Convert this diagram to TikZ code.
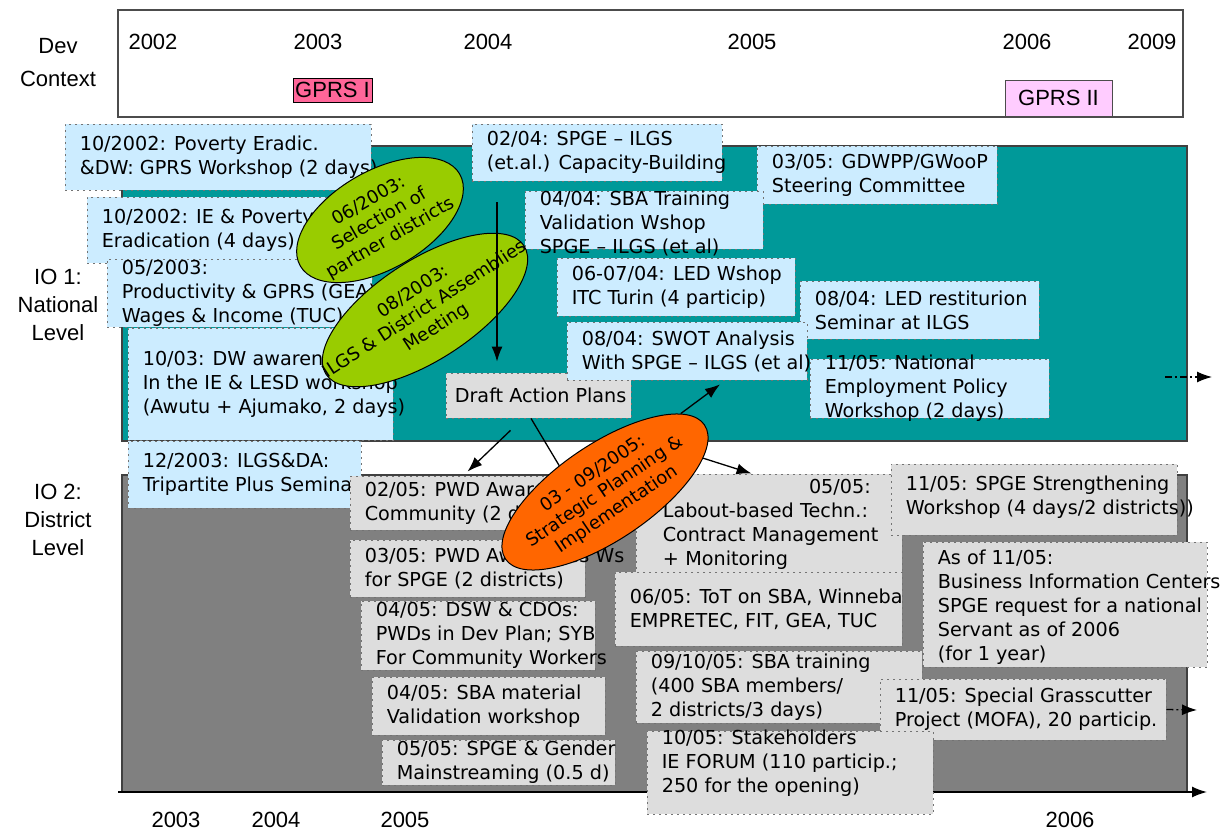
\documentclass[tikz,border=0pt]{standalone}
\usepackage{fontspec}
\setmainfont{DejaVu Sans}
\newfontfamily\arialfont{Liberation Sans}
\usetikzlibrary{arrows.meta,shapes.geometric,fit}
\definecolor{ioteal}{HTML}{009999}
\definecolor{iogrey}{HTML}{808080}
\definecolor{evblue}{HTML}{CCECFF}
\definecolor{evgrey}{HTML}{DDDDDD}
\definecolor{ovgreen}{HTML}{99CC00}
\definecolor{ovorange}{HTML}{FF6600}
\definecolor{gprsone}{HTML}{FF6699}
\definecolor{gprstwo}{HTML}{FFCCFF}
\colorlet{evedge}{white!45!black}

\begin{document}
\begin{tikzpicture}[
    x=1pt, y=-1pt,
    every node/.style={font=\fontsize{19.2}{24}\selectfont},
    lab/.style={font=\arialfont\fontsize{22}{28}\selectfont, align=center},
    panel/.style={draw=black!75, line width=1.2pt, inner sep=0pt},
    ev/.style={draw=evedge, dash pattern=on 2pt off 4pt, line width=0.8pt, inner sep=0pt},
    blue ev/.style={ev, fill=evblue},
    grey ev/.style={ev, fill=evgrey},
    evtext/.style={anchor=west, align=left, inner xsep=15pt, inner ysep=0pt},
    oval/.style={ellipse, draw=black, line width=1pt, inner sep=-45pt, align=center,
        font=\fontsize{18}{21.5}\selectfont},
    arr/.style={-{Latex[length=15pt,width=11pt]}, line width=1.3pt},
    dasharr/.style={arr, dash pattern=on 7pt off 3pt on 2pt off 3pt}
]
\useasboundingbox (0,0) rectangle (1223,832);

% development context
\node [panel, draw=black!70, fill=white, fit={(118,10) (1183,117)}] (ctx) {};
\node [lab] (devctx) at (58,63) {Dev\\[5pt]Context};
\node [lab] (c02) at (153,42) {2002};
\node [lab] (c03) at (318,42) {2003};
\node [lab] (c04) at (488,42) {2004};
\node [lab] (c05) at (752,42) {2005};
\node [lab] (c06) at (1027,42) {2006};
\node [lab] (c09) at (1152,42) {2009};
\node [lab, draw=black, fill=gprsone, inner sep=0pt, minimum width=79pt, minimum height=24pt] (gprs1) at (332.5,90) {GPRS I};
\node [lab, draw=black!70, fill=gprstwo, inner sep=0pt, minimum width=107pt, minimum height=36pt] (gprs2) at (1058.5,98) {GPRS II};

% the two levels
\node [panel, fill=ioteal, fit={(122,146) (1187,441)}] (nat) {};
\node [panel, fill=iogrey, fit={(122,475) (1187,792)}] (dist) {};
\node [lab] (io1) at (58,305) {IO 1:\\National\\Level};
\node [lab] (io2) at (58,520) {IO 2:\\District\\Level};

\coordinate (t0) at (118,792);
\coordinate (t1) at (1207,792);
\draw [arr, line width=1.5pt] (t0) -- (t1);
\node [lab] (b03) at (176,820) {2003};
\node [lab] (b04) at (276,820) {2004};
\node [lab] (b05) at (405,820) {2005};
\node [lab] (b06) at (1070,820) {2006};

\coordinate (n0) at (1165,377);
\coordinate (n1) at (1212,377);
\draw [dasharr] (n0) -- (n1);

% national level
\node [blue ev, fit={(65,124) (371,190)}, label={[evtext]west:{10/2002: Poverty Eradic.\\\&DW: GPRS Workshop (2 days)}}] (pov) {};
\node [blue ev, fit={(87,197) (372,263)}, label={[evtext]west:{10/2002: IE \& Poverty\\Eradication (4 days)}}] (iepov) {};
\node [blue ev, fit={(107,259) (372,327)}, label={[evtext]west:{05/2003:\\Productivity \& GPRS (GEA)\\Wages \& Income (TUC)}}] (prod) {};
\node [blue ev, fit={(128,328) (393,440)}, label={[evtext]west:{10/03: DW awareness\\In the IE \& LESD workshop\\(Awutu + Ajumako, 2 days)}}] (aware) {};
\node [blue ev, fit={(128,441) (361,508)}, label={[evtext]west:{12/2003: ILGS\&DA:\\Tripartite Plus Seminar}}] (tripart) {};

\node [blue ev, fit={(472,124) (722,181)}, label={[evtext]west:{02/04: SPGE – ILGS\\(et.al.) Capacity-Building}}] (capbuild) {};
\node [blue ev, fit={(757,146) (997,204)}, label={[evtext]west:{03/05: GDWPP/GWooP\\Steering Committee}}] (steer) {};
\node [blue ev, fit={(525,191) (763,249)}, label={[evtext, yshift=-3pt]west:{04/04: SBA Training\\Validation Wshop\\SPGE – ILGS (et al)}}] (sbatrain) {};
\node [blue ev, fit={(557,258) (795,316)}, label={[evtext]west:{06-07/04: LED Wshop\\ITC Turin (4 particip)}}] (ledws) {};
\node [blue ev, fit={(800,281) (1039,339)}, label={[evtext]west:{08/04: LED restiturion\\Seminar at ILGS}}] (ledsem) {};
\node [grey ev, fit={(446,373) (631,418)}, label={[evtext, inner xsep=9pt]west:Draft Action Plans}] (dap) {};
\node [blue ev, fit={(567,322) (807,380)}, label={[evtext]west:{08/04: SWOT Analysis\\With SPGE – ILGS (et al)}}] (swot) {};
\node [blue ev, fit={(810,359) (1049,418)}, label={[evtext]west:{11/05: National\\Employment Policy\\Workshop (2 days)}}] (emppol) {};

\node [oval, fill=ovgreen, rotate=30, minimum width=184pt, minimum height=98pt] (select) at (380,220) {06/2003:\\Selection of\\partner districts};
\node [oval, fill=ovgreen, rotate=33, minimum width=236pt, minimum height=100pt] (ilgsmeet) at (425,310) {08/2003:\\ILGS \& District Assemblies\\Meeting};

% district level
\node [grey ev, fit={(350,476) (585,530)}, label={[evtext]west:{02/05: PWD Awareness\\Community (2 days)}}] (pwdcom) {};
\node [grey ev, fit={(350,540) (585,597)}, label={[evtext]west:{03/05: PWD Awareness Ws\\for SPGE (2 districts)}}] (pwdspge) {};
\node [grey ev, fit={(361,601) (595,670)}, label={[evtext]west:{04/05: DSW \& CDOs:\\PWDs in Dev Plan; SYB\\For Community Workers}}] (dsw) {};
\node [grey ev, fit={(372,677) (605,735)}, label={[evtext]west:{04/05: SBA material\\Validation workshop}}] (sbamat) {};
\node [grey ev, fit={(382,740) (615,785)}, label={[evtext]west:{05/05: SPGE \& Gender\\Mainstreaming (0.5 d)}}] (gender) {};

\node [grey ev, fit={(636,474) (902,575)}, label={[evtext, inner xsep=27pt, text width=208pt]west:{\hspace*{\fill}05/05:\\\mbox{Labout-based Techn.:}\\\mbox{Contract Management}\\+ Monitoring}}] (labour) {};
\node [grey ev, fit={(615,572) (902,646)}, label={[evtext]west:{06/05: ToT on SBA, Winneba\\EMPRETEC, FIT, GEA, TUC}}] (tot) {};
\node [grey ev, fit={(636,651) (922,723)}, label={[evtext]west:{09/10/05: SBA training\\(400 SBA members/\\2 districts/3 days)}}] (sbatr) {};
\node [grey ev, fit={(891,464) (1177,535)}, label={[evtext, yshift=2pt]west:{11/05: SPGE Strengthening\\Workshop (4 days/2 districts))}}] (strength) {};
\node [grey ev, fit={(923,542) (1207,667)}, label={[evtext, yshift=-3pt]west:{As of 11/05:\\Business Information Centers\\SPGE request for a national\\Servant as of 2006\\(for 1 year)}}] (bic) {};
\node [grey ev, fit={(880,679) (1166,740)}, label={[evtext]west:{11/05: Special Grasscutter\\Project (MOFA), 20 particip.}}] (grass) {};
\node [grey ev, fit={(647,731) (933,814)}, label={[evtext, yshift=9pt]west:{10/05: Stakeholders\\IE FORUM (110 particip.;\\250 for the opening)}}] (forum) {};

\coordinate (g1) at (1197,710);
\draw [dasharr] (grass.east) -- (g1);

\node [oval, fill=ovorange, rotate=34, minimum width=240pt, minimum height=96pt] (strat) at (605,492) {03 - 09/2005:\\Strategic Planning \&\\Implementation};

% links
\coordinate (drop) at (497,202);
\draw [arr, shorten >=11pt] (drop) -- (drop |- dap.north);
\draw [arr] ([xshift=-28pt,yshift=-12pt]dap.south) -- ([yshift=4pt]pwdcom.north);
\draw [line width=1.3pt] ([xshift=-7.5pt]dap.south) -- (strat.116);
\draw [arr] (strat.12) -- ([xshift=33pt,yshift=-4pt]swot.south);
\draw [arr] (strat.345) -- ([xshift=116pt]labour.north west);

\end{tikzpicture}
\end{document}
